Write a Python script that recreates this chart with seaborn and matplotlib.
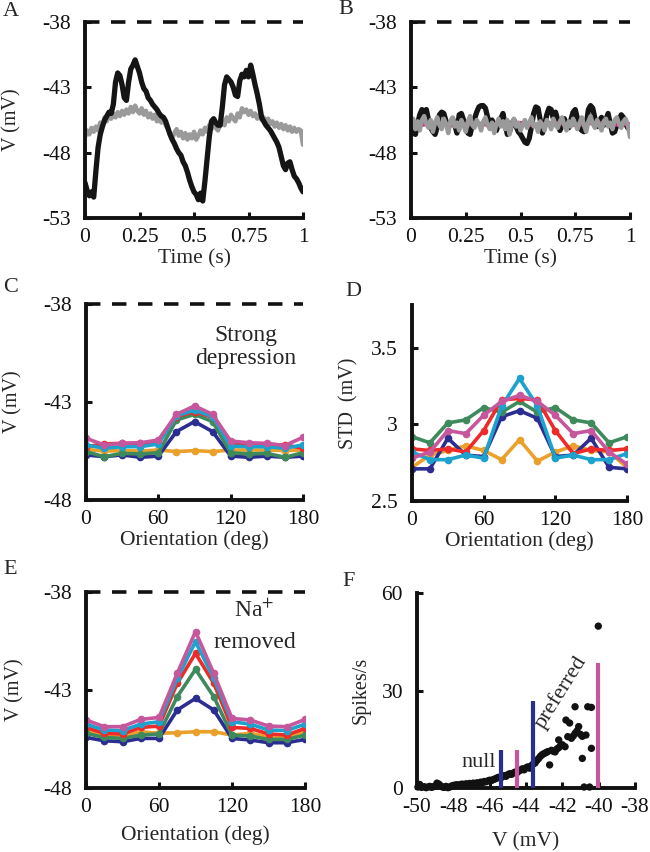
import numpy as np
import pandas as pd
import matplotlib
matplotlib.use('Agg')
import matplotlib.pyplot as plt
import seaborn as sns

# ---- data ----
time_s = np.round(np.arange(0, 101) * 0.01, 2)

# A: recorded (black) and model (gray) traces
trace_a_black = [
    -50.3, -50.9, -51.3, -51.0, -51.4, -49.4, -47.6, -46.6, -46.0, -45.5,
    -45.2, -44.9, -45.0, -44.3, -42.6, -41.9, -42.1, -42.8, -43.8, -44.0,
    -42.6, -41.6, -41.3, -40.9, -41.4, -41.9, -42.6, -43.1, -43.3, -43.8,
    -44.0, -44.3, -44.5, -44.7, -45.0, -45.2, -45.3, -45.6, -46.1, -46.6,
    -47.0, -47.3, -47.7, -48.0, -48.2, -48.7, -49.0, -49.5, -50.1, -50.6,
    -51.0, -51.2, -51.6, -51.1, -51.7, -50.2, -48.5, -46.8, -45.6, -45.4,
    -45.7, -45.9, -45.9, -44.5, -42.8, -42.2, -42.4, -42.6, -43.0, -43.6,
    -43.7, -42.5, -42.0, -42.2, -41.7, -42.2, -41.3, -42.0, -42.8, -43.5,
    -44.3, -45.3, -45.6, -45.9, -46.1, -46.3, -46.6, -46.9, -47.2, -47.6,
    -48.3, -49.0, -49.3, -48.8, -48.7, -49.3, -49.8, -50.0, -50.3, -50.7,
    -51.0]
trace_a_gray = [
    -46.8, -46.3, -46.6, -46.1, -46.4, -46.0, -46.3, -45.7, -45.9, -45.3,
    -45.6, -45.1, -45.4, -45.0, -45.3, -44.9, -45.2, -44.8, -45.1, -44.7,
    -45.0, -44.5, -44.9, -44.4, -44.8, -45.0, -44.6, -45.1, -44.8, -45.3,
    -45.0, -45.4, -45.1, -45.6, -45.3, -45.7, -45.5, -45.9, -46.2, -46.6,
    -46.9, -46.5, -46.2, -46.7, -46.4, -46.9, -46.5, -47.0, -46.6, -46.9,
    -46.4, -47.0, -46.7, -46.3, -46.6, -46.1, -46.4, -45.9, -46.2, -45.8,
    -46.1, -46.3, -45.9, -45.6, -45.9, -45.3, -45.6, -45.1, -45.4, -45.6,
    -45.0, -45.3, -44.6, -44.9, -44.7, -45.1, -44.8, -45.2, -45.0, -45.4,
    -45.1, -45.5, -45.3, -45.7, -45.4, -45.8, -45.6, -46.0, -45.7, -46.1,
    -45.8, -46.2, -45.9, -46.3, -46.0, -46.4, -46.1, -46.4, -46.2, -46.3,
    -47.4]

# B: null orientation traces
trace_b_black = [
    -45.9, -46.5, -46.6, -45.8, -45.1, -44.7, -45.0, -44.7, -45.5, -46.1,
    -46.4, -46.6, -46.0, -45.1, -44.9, -45.0, -45.6, -46.1, -45.8, -45.4,
    -45.9, -46.5, -45.1, -45.0, -45.5, -46.1, -46.5, -46.6, -45.9, -45.4,
    -44.9, -44.5, -44.4, -44.4, -44.6, -45.3, -45.8, -45.5, -46.0, -46.3,
    -45.8, -45.4, -45.0, -45.9, -46.6, -46.4, -45.8, -45.5, -46.0, -46.4,
    -46.6, -46.9, -47.2, -47.3, -46.9, -46.0, -45.0, -44.5, -44.6, -45.5,
    -46.5, -45.9, -45.1, -44.6, -44.7, -45.4, -44.9, -45.5, -46.3, -45.9,
    -45.4, -45.8, -46.1, -45.5, -44.9, -44.7, -45.4, -46.1, -46.3, -46.4,
    -45.9, -44.7, -44.4, -44.6, -45.4, -46.0, -45.6, -45.3, -45.9, -45.5,
    -45.0, -45.8, -46.5, -46.4, -45.9, -45.5, -45.1, -45.3, -45.8, -46.1,
    -46.0]
trace_b_gray = [
    -45.9, -45.4, -46.2, -45.6, -46.3, -45.5, -45.2, -45.8, -46.1, -45.5,
    -46.4, -45.7, -45.3, -45.9, -46.2, -45.4, -45.8, -46.5, -45.6, -45.3,
    -46.0, -45.7, -46.3, -45.5, -45.9, -46.4, -45.6, -45.2, -45.9, -46.1,
    -45.5, -45.8, -46.3, -45.6, -45.3, -45.9, -46.2, -45.7, -46.5, -45.8,
    -45.4, -46.0, -45.6, -46.2, -45.5, -46.6, -45.8, -45.4, -46.0, -45.7,
    -46.3, -45.9, -45.5, -46.1, -45.7, -45.3, -46.0, -45.8, -46.4, -45.6,
    -45.9, -46.3, -45.5, -45.8, -46.2, -45.4, -45.9, -46.1, -45.6, -45.3,
    -45.9, -46.3, -45.6, -46.0, -45.4, -45.8, -46.2, -45.7, -45.3, -45.9,
    -46.4, -45.6, -45.2, -45.8, -46.1, -45.5, -45.9, -46.3, -45.6, -45.4,
    -46.0, -45.7, -46.2, -45.5, -45.3, -45.8, -46.1, -45.6, -45.4, -45.9,
    -46.8]
time_pink = np.round(np.arange(0, 21) * 0.05, 2)
trace_b_pink = [-45.8, -45.9, -45.7, -45.8, -45.9, -45.8, -45.7, -45.9, -45.8, -45.8, -45.7,
                -45.9, -45.8, -45.7, -45.8, -45.9, -45.8, -45.7, -45.8, -45.9, -45.8]

orientation = [0, 15, 30, 45, 60, 75, 90, 105, 120, 135, 150, 165, 180]
series_names = ['orange', 'blue', 'green', 'red', 'cyan', 'pink']
palette = {'orange': '#e9a12b', 'blue': '#2b2e90', 'green': '#3e8a5c',
           'red': '#ee2a2a', 'cyan': '#1ca2cd', 'pink': '#c6579c'}

# C: mean V, strong depression
c_pink = [-44.85, -45.19, -45.11, -45.08, -44.94, -43.63, -43.20, -43.63, -44.99, -45.08, -45.11, -45.22, -44.80]
c_cyan = [-45.19, -45.36, -45.28, -45.28, -45.14, -43.71, -43.41, -43.75, -45.25, -45.28, -45.28, -45.36, -45.19]
c_red = [-45.28, -45.14, -45.11, -45.11, -45.08, -43.75, -43.49, -43.78, -45.14, -45.19, -45.19, -45.19, -45.36]
c_orange = [-45.42, -45.50, -45.48, -45.50, -45.45, -45.53, -45.48, -45.53, -45.45, -45.45, -45.45, -45.48, -45.45]
c_green = [-45.53, -45.79, -45.62, -45.65, -45.59, -43.92, -43.63, -44.00, -45.59, -45.65, -45.62, -45.82, -45.59]
c_blue = [-45.70, -45.79, -45.70, -45.82, -45.76, -44.51, -44.00, -44.51, -45.76, -45.82, -45.76, -45.82, -45.76]

# D: STD of V
d_pink = [2.78, 2.82, 2.96, 2.94, 3.06, 3.15, 3.19, 3.15, 3.06, 2.94, 2.96, 2.82, 2.74]
d_cyan = [2.82, 2.77, 2.77, 2.80, 2.78, 3.12, 3.30, 3.12, 2.78, 2.80, 2.77, 2.77, 2.81]
d_red = [2.84, 2.83, 2.84, 2.82, 2.96, 3.16, 3.17, 3.16, 2.96, 2.81, 2.84, 2.83, 2.84]
d_orange = [2.72, 2.80, 2.83, 2.86, 2.83, 2.77, 2.90, 2.76, 2.82, 2.86, 2.83, 2.82, 2.72]
d_green = [2.92, 2.88, 3.01, 3.03, 3.11, 3.08, 3.15, 3.08, 3.11, 3.03, 3.01, 2.88, 2.92]
d_blue = [2.71, 2.71, 2.91, 2.80, 2.79, 3.05, 3.09, 3.04, 2.79, 2.80, 2.91, 2.72, 2.71]

# E: mean V, Na+ removed
e_pink = [-44.53, -44.87, -44.87, -44.50, -44.40, -42.15, -40.02, -42.15, -44.45, -44.53, -44.84, -44.87, -44.50]
e_cyan = [-44.74, -45.04, -45.07, -44.74, -44.62, -42.41, -40.53, -42.41, -44.62, -44.74, -45.04, -45.07, -44.74]
e_red = [-44.91, -45.21, -45.24, -44.91, -44.84, -42.66, -41.13, -42.66, -44.91, -44.96, -45.24, -45.30, -44.96]
e_orange = [-45.04, -45.30, -45.35, -45.13, -45.21, -45.18, -45.13, -45.13, -45.30, -45.21, -45.38, -45.38, -45.13]
e_green = [-45.21, -45.42, -45.47, -45.30, -45.24, -43.34, -41.95, -43.34, -45.30, -45.35, -45.52, -45.52, -45.30]
e_blue = [-45.42, -45.59, -45.64, -45.47, -45.47, -44.02, -43.43, -44.02, -45.47, -45.55, -45.69, -45.69, -45.52]

# F: firing rate vs membrane potential
f_v = [-49.95, -49.85, -49.75, -49.6, -49.5, -49.4, -49.3, -49.2, -49.1, -49.0,
       -48.9, -48.8, -48.7, -48.6, -48.5, -48.4, -48.3, -48.2, -48.1, -48.0,
       -47.9, -47.8, -47.7, -47.6, -47.5, -47.4, -47.3, -47.2, -47.1, -47.0,
       -46.9, -46.8, -46.7, -46.6, -46.5, -46.4, -46.3, -46.2, -46.1, -46.0,
       -45.9, -45.8, -45.7, -45.6, -45.5, -45.4, -45.3, -45.2, -45.1, -45.0,
       -44.9, -44.8, -44.7, -44.6, -44.5, -44.4, -44.3, -44.2, -44.1, -44.0,
       -43.9, -43.8, -43.7, -43.6, -43.5, -43.4, -43.3, -43.2, -43.1, -43.0,
       -42.9, -42.8, -42.7, -42.6, -42.5, -42.4, -42.3, -42.2, -42.1, -42.0,
       -42.2, -41.85, -41.8, -41.7, -41.6, -41.5, -41.4, -41.3, -41.3, -41.2,
       -41.1, -41.0, -40.9, -40.9, -40.8, -40.7, -40.6, -40.5, -40.4, -40.4,
       -40.02]
f_rate = [0.3, 1.1, 0.2, 0.4, 0.1, 0.3, 0.5, 0.2, 0.4, 0.6,
          1.5, 1.2, 0.7, 0.3, 0.2, 0.5, 0.1, 0.3, 0.6, 0.8,
          0.9, 1.0, 0.8, 1.1, 1.2, 1.0, 1.3, 1.1, 1.4, 1.2,
          1.5, 1.3, 1.6, 1.4, 1.8, 1.6, 2.0, 1.9, 2.2, 2.4,
          2.3, 2.6, 2.8, 3.1, 3.3, 3.0, 3.5, 3.8, 3.6, 4.1,
          4.4, 4.2, 4.6, 4.9, 4.7, 5.2, 5.5, 5.9, 5.6, 6.2,
          6.5, 6.1, 6.9, 7.4, 7.7, 8.5, 9.1, 9.8, 10.3, 10.6,
          10.9, 11.2, 7.1, 11.6, 11.3, 11.1, 12.0, 12.4, 13.0, 13.3,
          14.8, 12.7, 20.9, 15.8, 20.0, 15.3, 16.0, 25.0, 16.8, 17.5,
          18.9, 16.5, 9.1, 15.9, 0.3, 16.3, 25.0, 0.3, 12.2, 24.8,
          49.8]
bar_v = [-45.4, -44.5, -43.6, -40.05]
bar_top = [11.6, 11.6, 26.9, 38.6]
bar_colors = ['#2b2e90', '#c6579c', '#2b2e90', '#c6579c']

# ---- style ----
sns.set_style('ticks')
plt.rcParams['font.family'] = ['Liberation Serif', 'DejaVu Serif']
plt.rcParams['mathtext.fontset'] = 'stix'
FS = 15.5
SPINE = 2.8


def tuning_frame(series):
    rows = []
    for name, vals in zip(series_names, series):
        for o, v in zip(orientation, vals):
            rows.append({'ori': o, 'val': v, 'cond': name})
    return pd.DataFrame(rows)


def style(ax, xlim, ylim, xticks, xlabels, yticks, ylabels, xlabel, ylabel, xl_y, yl_x):
    ax.set_xlim(*xlim)
    ax.set_ylim(*ylim)
    ax.set_xticks(xticks)
    ax.set_xticklabels(xlabels)
    ax.set_yticks(yticks)
    ax.set_yticklabels(ylabels)
    sns.despine(ax=ax)
    for s in ['left', 'bottom']:
        ax.spines[s].set_linewidth(SPINE)
        ax.spines[s].set_color('#111111')
    ax.tick_params(direction='in', length=4, width=2.2, labelsize=FS, colors='#111111')
    ax.tick_params(axis='y', pad=10)
    ax.tick_params(axis='x', pad=7)
    ax.set_xlabel(xlabel, fontsize=FS)
    ax.set_ylabel(ylabel, fontsize=14.5)
    # label coords: top edge of x label, right edge of y label
    ax.xaxis.set_label_coords(0.5, xl_y)
    ax.yaxis.set_label_coords(yl_x, 0.5)


def dashed_top(ax):
    ax.axhline(-38, color='#111111', lw=2.6, ls=(0, (4, 3.2)), clip_on=False)


fig = plt.figure(figsize=(6.5, 8.52), dpi=100)
W, H = 650, 852


def add_ax(x0, x1, y0, y1):
    return fig.add_axes([x0 / W, 1 - y1 / H, (x1 - x0) / W, (y1 - y0) / H])


ax_a = add_ax(85, 303, 22, 218)
ax_b = add_ax(411, 630, 22, 218)
ax_c = add_ax(86, 303, 304, 500)
ax_d = add_ax(412, 627, 305, 501)
ax_e = add_ax(86, 305, 592, 788)
ax_f = add_ax(417, 635, 593, 788)

time_ticks = [0, 0.25, 0.5, 0.75, 1]
time_labels = ['0', '0.25', '0.5', '0.75', '1']
v_ticks = [-53, -48, -43, -38]

# A
sns.lineplot(x=time_s, y=trace_a_gray, ax=ax_a, color='#9a9a9a', lw=3.2)
sns.lineplot(x=time_s, y=trace_a_black, ax=ax_a, color='#151515', lw=3.8)
dashed_top(ax_a)
style(ax_a, (0, 1), (-53, -38), time_ticks, time_labels, v_ticks, [str(v) for v in v_ticks],
      'Time (s)', 'V (mV)', -0.16, -0.29)

# B
sns.lineplot(x=time_s, y=trace_b_black, ax=ax_b, color='#151515', lw=3.8)
sns.lineplot(x=time_pink, y=trace_b_pink, ax=ax_b, color='#e0208a', lw=2.6)
sns.lineplot(x=time_s, y=trace_b_gray, ax=ax_b, color='#9a9a9a', lw=3.2)
dashed_top(ax_b)
style(ax_b, (0, 1), (-53, -38), time_ticks, time_labels, v_ticks, [str(v) for v in v_ticks],
      'Time (s)', '', -0.16, -0.3)

ori_ticks = [0, 60, 120, 180]
ori_labels = ['0', '60', '120', '180']

# C
df_c = tuning_frame([c_orange, c_blue, c_green, c_red, c_cyan, c_pink])
sns.lineplot(data=df_c, x='ori', y='val', hue='cond', hue_order=series_names, palette=palette,
             marker='o', markersize=5.5, markeredgewidth=0, lw=2.6, legend=False, ax=ax_c)
dashed_top(ax_c)
style(ax_c, (0, 180), (-48, -38), ori_ticks, ori_labels, [-48, -43, -38], ['-48', '-43', '-38'],
      'Orientation (deg)', 'V (mV)', -0.155, -0.295)
ax_c.text(0.735, 0.78, 'Strong\ndepression', transform=ax_c.transAxes, ha='center', va='center',
          fontsize=17, linespacing=1.1)

# D
df_d = tuning_frame([d_orange, d_blue, d_green, d_red, d_cyan, d_pink])
sns.lineplot(data=df_d, x='ori', y='val', hue='cond', hue_order=series_names, palette=palette,
             marker='o', markersize=5.5, markeredgewidth=0, lw=2.6, legend=False, ax=ax_d)
style(ax_d, (0, 180), (2.5, 3.78), ori_ticks, ori_labels, [2.5, 3, 3.5], ['2.5', '3', '3.5'],
      'Orientation (deg)', 'STD  (mV)', -0.155, -0.25)

# E
df_e = tuning_frame([e_orange, e_blue, e_green, e_red, e_cyan, e_pink])
sns.lineplot(data=df_e, x='ori', y='val', hue='cond', hue_order=series_names, palette=palette,
             marker='o', markersize=5.5, markeredgewidth=0, lw=2.6, legend=False, ax=ax_e)
dashed_top(ax_e)
style(ax_e, (0, 180), (-48, -38), ori_ticks, ori_labels, [-48, -43, -38], ['-48', '-43', '-38'],
      'Orientation (deg)', 'V (mV)', -0.19, -0.28)
ax_e.text(0.77, 0.905, 'Na$^{+}$', transform=ax_e.transAxes, ha='center', va='center', fontsize=17)
ax_e.text(0.77, 0.74, 'removed', transform=ax_e.transAxes, ha='center', va='center', fontsize=17)

# F
ax_f.vlines(bar_v, 0, bar_top, colors=bar_colors, lw=3.0, zorder=3)
sns.scatterplot(x=f_v, y=f_rate, ax=ax_f, color='#111111', s=28, edgecolor='none', zorder=2,
                clip_on=False)
f_ticks = [-50, -48, -46, -44, -42, -40, -38]
style(ax_f, (-50, -38), (0, 60), f_ticks, [str(v) for v in f_ticks], [0, 30, 60], ['0', '30', '60'],
      'V (mV)', 'Spikes/s', -0.225, -0.215)
ax_f.text(-46.6, 7.8, 'null', ha='center', va='center', fontsize=16)
ax_f.text(-42.1, 29.5, 'preferred', ha='center', va='center', fontsize=16, rotation=58)

# panel letters
for letter, px, py in [('A', 3, 11), ('B', 338, 9), ('C', 3, 288), ('D', 345, 292),
                       ('E', 3, 570), ('F', 342, 581)]:
    fig.text(px / W, 1 - py / H, letter, ha='left', va='center', fontsize=16)

fig.savefig('out.png', dpi=100)
